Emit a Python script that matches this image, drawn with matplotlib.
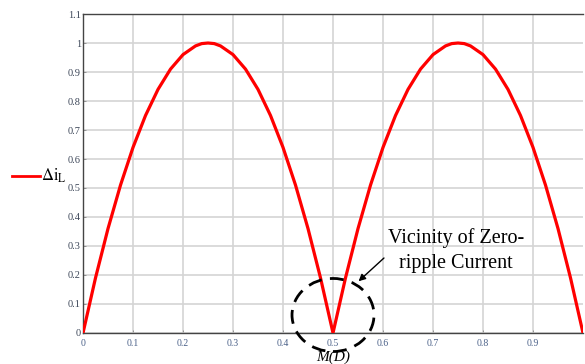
import numpy as np
import matplotlib
matplotlib.use("Agg")
import matplotlib.pyplot as plt
from matplotlib.patches import Ellipse

# duty cycle D and normalised inductor ripple
duty = [0.0, 0.025, 0.05, 0.075, 0.1, 0.125, 0.15, 0.175, 0.2, 0.225, 0.2375,
        0.25, 0.2625, 0.275, 0.3, 0.325, 0.35, 0.375, 0.4, 0.425, 0.45, 0.475,
        0.5, 0.525, 0.55, 0.575, 0.6, 0.625, 0.65, 0.675, 0.7, 0.725, 0.7375,
        0.75, 0.7625, 0.775, 0.8, 0.825, 0.85, 0.875, 0.9, 0.925, 0.95, 0.975,
        1.0]
ripple = [0.0, 0.19, 0.36, 0.51, 0.64, 0.75, 0.84, 0.91, 0.96, 0.99, 0.998,
          1.0, 0.998, 0.99, 0.96, 0.91, 0.84, 0.75, 0.64, 0.51, 0.36, 0.19,
          0.0, 0.19, 0.36, 0.51, 0.64, 0.75, 0.84, 0.91, 0.96, 0.99, 0.998,
          1.0, 0.998, 0.99, 0.96, 0.91, 0.84, 0.75, 0.64, 0.51, 0.36, 0.19,
          0.0]

x_ticks = [0, 0.1, 0.2, 0.3, 0.4, 0.5, 0.6, 0.7, 0.8, 0.9]
y_ticks = [0, 0.1, 0.2, 0.3, 0.4, 0.5, 0.6, 0.7, 0.8, 0.9, 1, 1.1]

plt.rcParams['mathtext.fontset'] = 'stix'

fig = plt.figure(figsize=(5.85, 3.64), dpi=100)
ax = fig.add_axes([0.1419, 0.0852, 0.8547, 0.8763])

ax.plot(duty, ripple, color="#ff0000", lw=2.3, solid_capstyle="butt",
        solid_joinstyle="round", zorder=3)

ax.set_xlim(0, 1)
ax.set_ylim(0, 1.1)
ax.set_xticks(x_ticks)
ax.set_yticks(y_ticks)
ax.set_xticklabels([f"{v:g}" for v in x_ticks], family="Liberation Serif",
                   fontsize=7, color="#4a6088")
ax.set_yticklabels([f"{v:g}" for v in y_ticks], family="Liberation Serif",
                   fontsize=7.5, color="#3c4658")
ax.tick_params(axis="both", direction="in", length=2, width=0.6,
               color="#888888")
ax.tick_params(axis="x", pad=4)
ax.tick_params(axis="y", pad=1.5)
ax.grid(True, color="#d4d4d4", lw=1.2)
ax.set_axisbelow(True)
for side in ["left", "bottom", "top"]:
    ax.spines[side].set_color("#444444")
    ax.spines[side].set_linewidth(1.0)
ax.spines["right"].set_visible(False)

# legend to the left of the axis
fig.add_artist(plt.Line2D([12/585, 40/585], [1-176/364, 1-176/364],
                          color="#ff0000", lw=2.0, transform=fig.transFigure))
fig.text(41/585, 1-176/364, r"$\Delta\mathrm{i}_\mathrm{L}$", fontsize=12,
         va="center", ha="left")

# zero-ripple region
ax.add_patch(Ellipse((0.5, 0.062), 0.164, 0.252, fill=False, ec="black",
                     lw=2.0, ls=(0, (5, 3)), clip_on=False, zorder=4))
ax.annotate("", xy=(0.547, 0.172), xytext=(0.606, 0.265),
            arrowprops=dict(arrowstyle="-|>", color="black", lw=1.0,
                            mutation_scale=10))
ax.text(0.746, 0.285, "Vicinity of Zero-\nripple Current",
        family="Liberation Serif", fontsize=14.5, ha="center", va="center",
        linespacing=1.4, zorder=5)
ax.text(0.5, -0.085, "M(D)", family="Liberation Serif", style="italic",
        fontsize=11, ha="center", va="center", clip_on=False)

fig.savefig("out.png", dpi=100)
